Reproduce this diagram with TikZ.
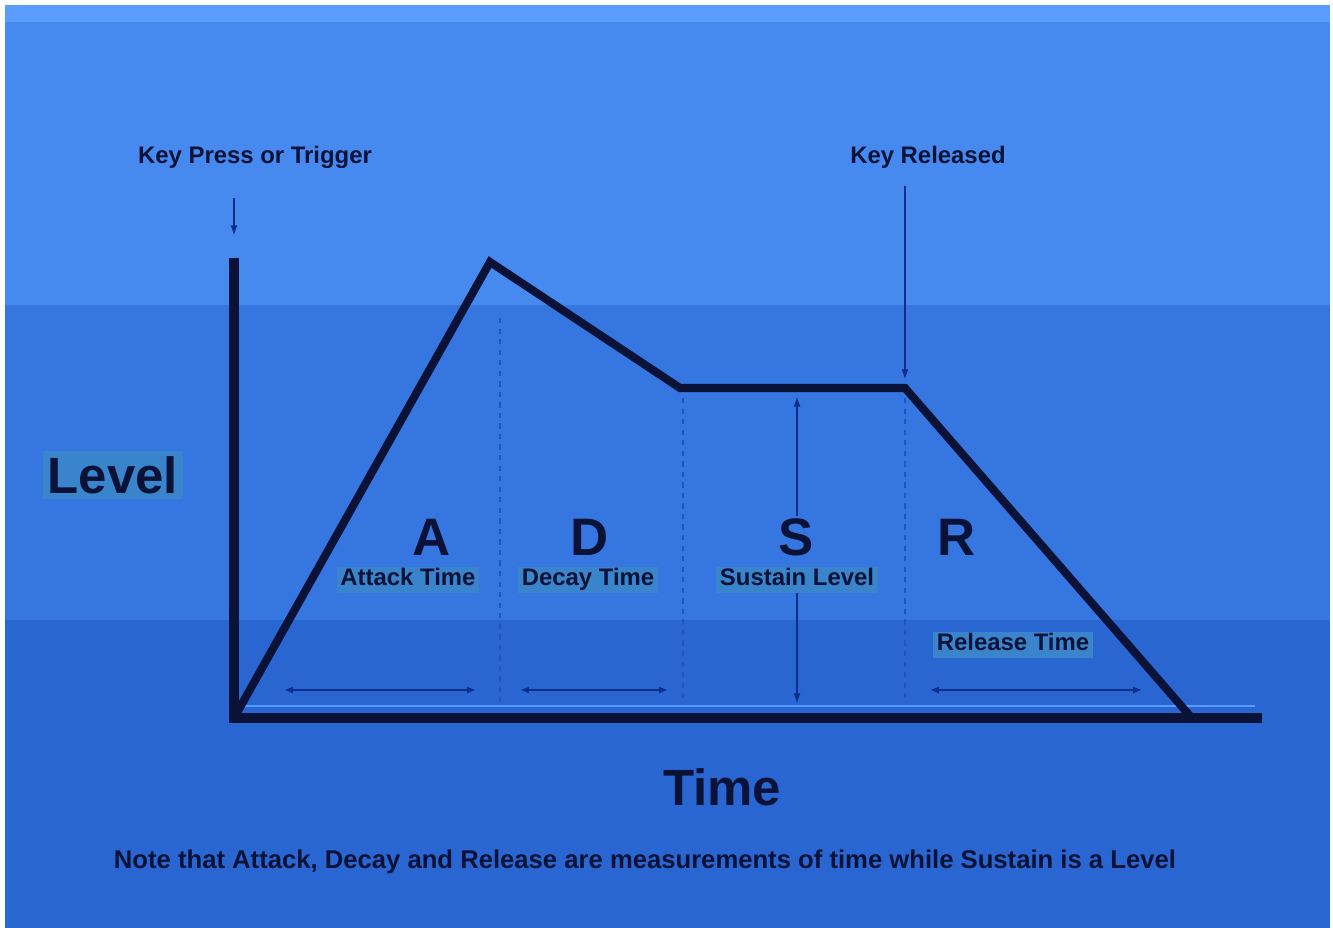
\documentclass[tikz,border=0pt]{standalone}
\usepackage{fontspec}
\setmainfont{Liberation Sans}
\usetikzlibrary{arrows.meta, positioning, calc}
\definecolor{bgTop}{HTML}{4689EF}
\definecolor{bgMid}{HTML}{3676E0}
\definecolor{bgLow}{HTML}{2966D2}
\definecolor{bgRim}{HTML}{5A9DFF}
\definecolor{inkNavy}{HTML}{0A1238}
\definecolor{lineBlue}{HTML}{0E2E8C}
\definecolor{guideBlue}{HTML}{1F55BE}
\definecolor{labelBox}{HTML}{3A84CC}

\begin{document}
\begin{tikzpicture}[
    x=0.02cm, y=-0.02cm,
    label/.style={font=\fontsize{13.6}{15}\selectfont\bfseries, text=inkNavy, inner sep=2pt},
    boxlabel/.style={label, fill=labelBox, text height=1.6ex, text depth=0.4ex},
    bigletter/.style={font=\fontsize{30}{34}\selectfont\bfseries, text=inkNavy, inner sep=1pt},
    axistitle/.style={font=\fontsize{29}{32}\selectfont\bfseries, text=inkNavy, fill=labelBox, inner sep=3pt},
    envelope/.style={line width=4.6pt, draw=inkNavy, line join=miter},
    axis/.style={line width=5.6pt, draw=inkNavy},
    span/.style={{Latex[length=5pt,width=4pt]}-{Latex[length=5pt,width=4pt]}, line width=1.1pt, draw=lineBlue},
    marker/.style={-{Latex[length=6pt,width=4pt]}, line width=1.1pt, draw=lineBlue},
    guide/.style={dashed, line width=0.9pt, draw=guideBlue},
]
    % background
    \useasboundingbox (0,0) rectangle (1333,928);
    \fill[white] (0,0) rectangle (1333,928);
    \fill[bgRim] (5,5) rectangle (1330,22);
    \fill[bgTop] (5,22) rectangle (1330,305);
    \fill[bgMid] (5,305) rectangle (1330,620);
    \fill[bgLow] (5,620) rectangle (1330,928);

    % envelope points
    \coordinate (orig) at (234,718);
    \coordinate (ytop) at (234,258);
    \coordinate (xend) at (1262,718);
    \coordinate (peak) at (490,262);
    \coordinate (sus1) at (680,388);
    \coordinate (sus2) at (905,388);
    \coordinate (zero) at (1190,716);

    % guides
    \coordinate (g1a) at (500,318); \coordinate (g1b) at (500,702);
    \coordinate (g2a) at (683,398); \coordinate (g2b) at (683,702);
    \coordinate (g3a) at (905,398); \coordinate (g3b) at (905,702);
    \draw[guide] (g1a) -- (g1b);
    \draw[guide] (g2a) -- (g2b);
    \draw[guide] (g3a) -- (g3b);

    % axes
    \draw[line width=1.2pt, draw=bgRim] (240,706) -- (1255,706);
    \draw[axis] (ytop) -- (orig) -- (xend);
    \draw[envelope] (orig) -- (peak) -- (sus1) -- (sus2) -- (zero);

    % top labels
    \node[label] (press) at (255,157) {Key Press or Trigger};
    \node[label] (release) at (928,157) {Key Released};
    \coordinate (pressTop) at (234,198);
    \coordinate (pressTip) at (234,236);
    \coordinate (relTop) at (905,186);
    \coordinate (relTip) at (905,380);
    \draw[marker] (pressTop) -- (pressTip);
    \draw[marker] (relTop) -- (relTip);

    % phase letters
    \node[bigletter] (lA) at (432,537) {A};
    \node[bigletter] (lD) at (590,537) {D};
    \node[bigletter] (lS) at (796,537) {S};
    \node[bigletter] (lR) at (957,537) {R};
    \node[boxlabel] (tA) at (408,580) {Attack Time};
    \node[boxlabel] (tD) at (588,580) {Decay Time};
    \node[boxlabel] (tS) at (797,580) {Sustain Level};
    \node[boxlabel] (tR) at (1013,645) {Release Time};

    % spans
    \coordinate (a1) at (284,690); \coordinate (a2) at (476,690);
    \coordinate (d1) at (520,690); \coordinate (d2) at (668,690);
    \coordinate (r1) at (930,690); \coordinate (r2) at (1142,690);
    \coordinate (s1) at (797,396); \coordinate (s2) at (797,704);
    \draw[span] (a1) -- (a2);
    \draw[span] (d1) -- (d2);
    \draw[span] (r1) -- (r2);
    \draw[marker] (lS.north -| s1) -- (s1);
    \draw[marker] (tS.south -| s1) -- (s2);

    % axis titles
    \node[axistitle] (level) at (113,475) {Level};
    \node[axistitle, fill=none] (time) at (722,787) {Time};

    % note
    \node[label, font=\fontsize{14.6}{16}\selectfont\bfseries] (note) at (645,862)
        {Note that Attack, Decay and Release are measurements of time while Sustain is a Level};
\end{tikzpicture}
\end{document}
